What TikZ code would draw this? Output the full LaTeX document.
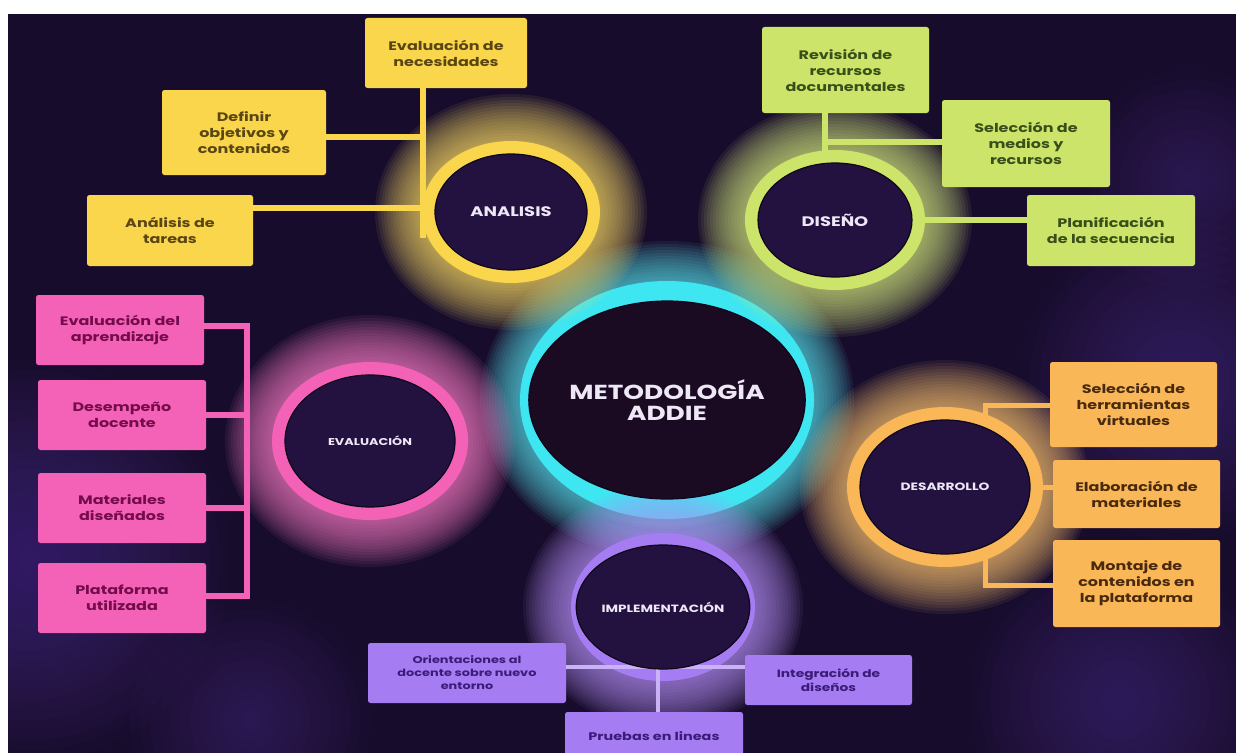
\documentclass[tikz,border=0pt]{standalone}
\usepackage{fontspec}
\setmainfont{Poppins}[FakeStretch=1.3]
\usetikzlibrary{shapes.geometric}
\definecolor{bg}{HTML}{170C2B}
\definecolor{haze}{HTML}{5A34A8}
\definecolor{cY}{HTML}{F9D64C}
\definecolor{tY}{HTML}{5A4612}
\definecolor{cG}{HTML}{CCE46A}
\definecolor{tG}{HTML}{3A4E1A}
\definecolor{cP}{HTML}{F462B8}
\definecolor{tP}{HTML}{740C4A}
\definecolor{cO}{HTML}{F9B758}
\definecolor{tO}{HTML}{4A2A0E}
\definecolor{cU}{HTML}{A67CF2}
\definecolor{tU}{HTML}{3A1C78}
\definecolor{lU}{HTML}{C9B2F6}
\definecolor{cC}{HTML}{3EE6F2}
\definecolor{cE}{HTML}{231240}
\definecolor{cM}{HTML}{1A0B22}
\definecolor{tW}{HTML}{EDE7F6}
% #1 centre, #2 rx, #3 ry, #4 colour, #5 width of the solid band
\newcommand\glowat[5]{%
  \foreach \d in {60,57,...,12}{%
    \fill[#4!85!white,opacity=0.075] (#1) ellipse [x radius=#2+\d, y radius=#3+\d];}%
  \fill[#4] (#1) ellipse [x radius=#2+#5, y radius=#3+#5];}
\newcommand\hazeat[2]{%
  \foreach \d in {10,20,...,#2}{%
    \fill[haze,opacity=0.035] (#1) circle (\d);}}
\tikzset{
  box/.style={rectangle, rounded corners=2.5pt, inner sep=2pt, align=center,
    font=\bfseries\fontsize{12.3}{16}\selectfont},
  ybox/.style={box, fill=cY, text=tY},
  gbox/.style={box, fill=cG, text=tG},
  pbox/.style={box, fill=cP, text=tP},
  obox/.style={box, fill=cO, text=tO},
  ubox/.style={box, fill=cU, text=tU, font=\bfseries\fontsize{9.9}{13}\selectfont},
  circ/.style={ellipse, fill=cE, draw=black!60!cE, line width=1.2pt, inner sep=0pt,
    text=tW, align=center, font=\bfseries\fontsize{13.8}{16}\selectfont},
  yline/.style={cY, line width=6pt},
  gline/.style={cG, line width=6pt},
  pline/.style={cP, line width=6pt},
  oline/.style={cO, line width=5pt},
  uline/.style={lU, line width=4pt},
}
\begin{document}
\begin{tikzpicture}[x=1pt,y=-1pt]
\useasboundingbox (0,0) rectangle (1236,752);
\fill[white] (0,0) rectangle (1236,752);
\fill[bg] (8,14) rectangle (1245,760);
\begin{scope}
\clip (8,14) rectangle (1245,760);
\hazeat{30,560}{200}
\hazeat{1180,380}{160}
\hazeat{1120,700}{150}
\hazeat{1190,180}{110}
\hazeat{250,720}{120}
\end{scope}
% centres
\coordinate (cM) at (667,400);
\coordinate (cA) at (511,212);
\coordinate (cD) at (835,220);
\coordinate (cE) at (370,441);
\coordinate (cI) at (663,607);
\coordinate (cR) at (945,487);
% glows
\glowat{cM}{127}{99}{cC}{20}
\glowat{cA}{76}{58}{cY}{13}
\glowat{cD}{77}{57}{cG}{13}
\glowat{cE}{85}{66}{cP}{13}
\glowat{cI}{80}{62}{cU}{12}
\glowat{cR}{85}{67}{cO}{13}
% boxes
\node[ybox, minimum width=162, minimum height=70] (yN) at (446,53) {Evaluación de\\necesidades};
\node[ybox, minimum width=164, minimum height=85] (yD) at (244,132.5) {Definir\\objetivos y\\contenidos};
\node[ybox, minimum width=166, minimum height=71] (yT) at (170,230.5) {Análisis de\\tareas};
\node[gbox, minimum width=167, minimum height=86] (gR) at (845.5,70) {Revisión de\\recursos\\documentales};
\node[gbox, minimum width=168, minimum height=87] (gS) at (1026,143.5) {Selección de\\medios y\\recursos};
\node[gbox, minimum width=168, minimum height=71] (gP) at (1111,230.5) {Planificación\\de la secuencia};
\node[pbox, minimum width=168, minimum height=70] (pA) at (120,330) {Evaluación del\\aprendizaje};
\node[pbox, minimum width=168, minimum height=70] (pD) at (122,415) {Desempeño\\docente};
\node[pbox, minimum width=168, minimum height=70] (pM) at (122,508) {Materiales\\diseñados};
\node[pbox, minimum width=168, minimum height=70] (pP) at (122,598) {Plataforma\\utilizada};
\node[obox, minimum width=167, minimum height=85] (oS) at (1133.5,404.5) {Selección de\\herramientas\\virtuales};
\node[obox, minimum width=167, minimum height=68] (oE) at (1136.5,494) {Elaboración de\\materiales};
\node[obox, minimum width=167, minimum height=87] (oM) at (1136.5,583.5) {Montaje de\\contenidos en\\la plataforma};
\node[ubox, minimum width=198, minimum height=60] (uO) at (467,673) {Orientaciones al\\docente sobre nuevo\\entorno};
\node[ubox, minimum width=178, minimum height=48, font=\bfseries\fontsize{11.1}{14}\selectfont] (uP) at (654,736) {Pruebas en lineas};
\node[ubox, minimum width=167, minimum height=50, font=\bfseries\fontsize{10.6}{13.5}\selectfont] (uI) at (828.5,680) {Integración de\\diseños};
% connector end points
\coordinate (ya1) at (423,137);
\coordinate (ya2) at (423,208);
\coordinate (yv) at (423,238);
\coordinate (gh) at (825,142);
\coordinate (gv) at (825,166);
\coordinate (pv1) at (247,326);
\coordinate (pv2) at (247,596);
\coordinate (ov1) at (985,405);
\coordinate (ov2) at (985,585);
\coordinate (ph) at (658,667);
% connectors
\draw[yline] (yN.south -| yv) -- (yv);
\draw[yline] (yD.east |- ya1) -- (ya1);
\draw[yline] (yT.east |- ya2) -- (ya2);
\draw[gline] (gR.south -| gv) -- (gv);
\draw[gline] (gh) -- (gS.west |- gh);
\draw[gline] (cD) -- (gP.west |- cD);
\draw[pline] (pA.east |- pv1) -- (pv1) -- (pv2) -- (pP.east |- pv2);
\draw[pline] (pD.east) -- (pD.east -| pv1);
\draw[pline] (pM.east) -- (pM.east -| pv1);
\draw[oline] (oS.west |- ov1) -- (ov1) -- (ov2) -- (oM.west |- ov2);
\draw[oline] (cR) -- (oE.west |- cR);
\draw[uline] (uO.east |- ph) -- (uI.west |- ph);
\draw[uline] (ph) -- (uP.north -| ph);
% ellipses
\node[circ, minimum width=254, minimum height=198, fill=cM, font=\bfseries\fontsize{20.3}{21.5}\selectfont] (eM) at (cM) {METODOLOGÍA\\ADDIE};
\node[circ, minimum width=152, minimum height=116] (eA) at (cA) {ANALISIS};
\node[circ, minimum width=154, minimum height=114] (eD) at (cD) {DISEÑO};
\node[circ, minimum width=170, minimum height=132, font=\bfseries\fontsize{9.9}{12}\selectfont] (eE) at (cE) {EVALUACIÓN};
\node[circ, minimum width=160, minimum height=124, font=\bfseries\fontsize{10.5}{12}\selectfont] (eI) at (cI) {IMPLEMENTACIÓN};
\node[circ, minimum width=170, minimum height=134, font=\bfseries\fontsize{10.6}{12}\selectfont] (eR) at (cR) {DESARROLLO};
\end{tikzpicture}
\end{document}
